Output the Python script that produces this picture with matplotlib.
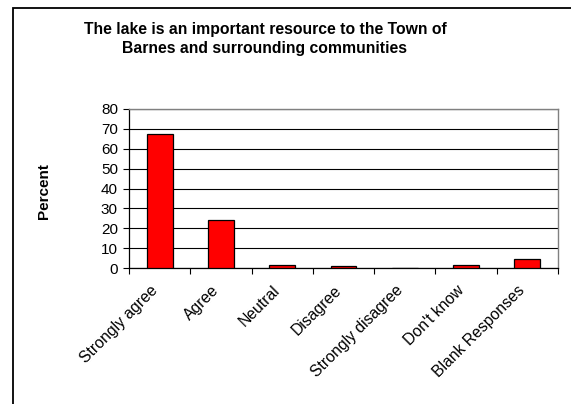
import numpy as np
import matplotlib
matplotlib.use('Agg')
import matplotlib.pyplot as plt
import matplotlib.transforms as mtransforms
from matplotlib.patches import Rectangle

plt.rcParams['font.family'] = ['Liberation Sans', 'DejaVu Sans']

categories = ['Strongly agree', 'Agree', 'Neutral', 'Disagree',
              'Strongly disagree', "Don't know", 'Blank Responses']
values = [67.3, 24.2, 1.6, 0.8, 0.0, 1.6, 4.6]
yticks = [0, 10, 20, 30, 40, 50, 60, 70, 80]
title = 'The lake is an important resource to the Town of\nBarnes and surrounding communities'

W, H = 571, 404
fig = plt.figure(figsize=(W / 100.0, H / 100.0), dpi=100)
fig.patch.set_facecolor('white')

# outer chart frame (runs off the right and bottom edges)
fig.patches.append(Rectangle((13.0 / W, -0.1), 1.2, 1 - 8.0 / H + 0.1, transform=fig.transFigure,
                             fill=False, edgecolor='k', linewidth=1.3, zorder=0))

ax = fig.add_axes([129.0 / W, 1 - 268.0 / H, (558.0 - 129.0) / W, (268.0 - 109.0) / H])
x = np.arange(len(categories))
ax.bar(x, values, width=0.42, color='#ff0000', edgecolor='k', linewidth=0.9, zorder=3)

ax.set_xlim(-0.5, len(categories) - 0.5)
ax.set_ylim(0, 80)
ax.set_yticks(yticks)
ax.set_yticklabels([str(v) for v in yticks], fontsize=11)
ax.yaxis.grid(True, color='k', linewidth=0.8, zorder=0)

ax.set_xticks(np.arange(len(categories) + 1) - 0.5, minor=False)
ax.set_xticklabels([])
ax.set_xticks(x, minor=True)
ax.set_xticklabels(categories, minor=True, rotation=45, ha='right', va='top',
                   rotation_mode='anchor', fontsize=11.3)
ax.tick_params(axis='x', which='major', direction='out', length=4, width=0.8)
ax.tick_params(axis='x', which='minor', length=0, pad=5)
ax.tick_params(axis='y', direction='out', length=4, width=0.8, pad=4)

# Excel puts the rotated labels a little left of and below the category centre
shift = mtransforms.ScaledTranslation(-10 / 100.0, -8 / 100.0, fig.dpi_scale_trans)
for lab in ax.get_xticklabels(minor=True):
    lab.set_transform(lab.get_transform() + shift)

for s in ['top', 'right']:
    ax.spines[s].set_color('#808080')
    ax.spines[s].set_linewidth(1.0)
for s in ['left', 'bottom']:
    ax.spines[s].set_color('k')
    ax.spines[s].set_linewidth(0.9)

fig.text(265.0 / W, 1 - 39.0 / H, title, ha='center', va='center', fontsize=11.3,
         fontweight='bold', linespacing=1.35)
fig.text(44.0 / W, 1 - 191.0 / H, 'Percent', ha='center', va='center', rotation=90,
         fontsize=11, fontweight='bold')

fig.savefig('out.png', dpi=100)
